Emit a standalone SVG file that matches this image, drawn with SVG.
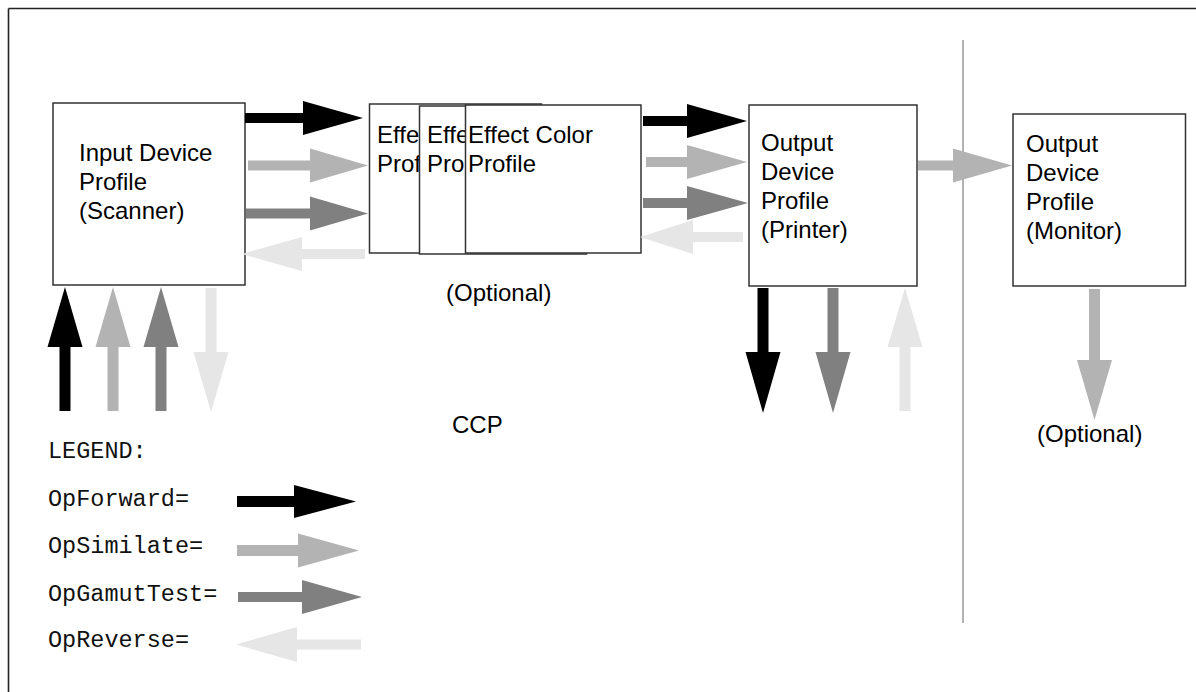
<svg xmlns="http://www.w3.org/2000/svg" width="1196" height="692" viewBox="0 0 1196 692">
<style>
.box{fill:#fff;stroke:#333;stroke-width:1.5}
.t{font-family:"Liberation Sans",Arial,sans-serif;font-size:24px;fill:#000}
.m{font-family:"Liberation Mono","Courier New",monospace;font-size:23.5px;fill:#111}
.fw{fill:#000}.sim{fill:#b3b3b3}.gam{fill:#808080}.rev{fill:#e6e6e6}
</style>
<rect width="1196" height="692" fill="#fff"/>
<g id="frame" stroke="#222" stroke-width="1.6" fill="none">
<line x1="8.5" y1="8.5" x2="1196" y2="8.5"/>
<line x1="8.5" y1="8.5" x2="8.5" y2="692"/>
</g>
<line id="separator" x1="963" y1="40" x2="963" y2="623" stroke="#999" stroke-width="1.5"/>
<g id="input">
<rect class="box" x="53" y="103" width="192" height="182"/>
<text class="t" x="79" y="161">Input Device</text>
<text class="t" x="79" y="190">Profile</text>
<text class="t" x="79" y="219">(Scanner)</text>
</g>
<g id="effect1">
<rect class="box" x="369.5" y="104" width="172" height="149"/>
<text class="t" x="377" y="143">Effe</text>
<text class="t" x="377" y="171.5">Prof</text>
</g>
<g id="effect2">
<rect class="box" x="419.5" y="106" width="167" height="148"/>
<text class="t" x="427" y="143">Effe</text>
<text class="t" x="427" y="171.5">Pro</text>
</g>
<g id="effect3">
<rect class="box" x="465.5" y="105" width="175.5" height="148"/>
<text class="t" x="468" y="143">Effect Color</text>
<text class="t" x="468" y="171.5">Profile</text>
</g>
<text class="t" x="446" y="301">(Optional)</text>
<g id="printer">
<rect class="box" x="749" y="105" width="168" height="181"/>
<text class="t" x="761" y="151">Output</text>
<text class="t" x="761" y="180">Device</text>
<text class="t" x="761" y="209">Profile</text>
<text class="t" x="761" y="238">(Printer)</text>
</g>
<g id="monitor">
<rect class="box" x="1013" y="114" width="172.5" height="172"/>
<text class="t" x="1026" y="152">Output</text>
<text class="t" x="1026" y="181">Device</text>
<text class="t" x="1026" y="210">Profile</text>
<text class="t" x="1026" y="239">(Monitor)</text>
</g>
<text class="t" x="1037" y="442">(Optional)</text>
<text class="t" x="452" y="433">CCP</text>
<g id="connectors">
<polygon class="fw" points="245,113 303,113 303,101 363,118 303,135 303,123 245,123"/>
<polygon class="sim" points="248,160.5 310,160.5 310,148.5 368,165.5 310,182.5 310,170.5 248,170.5"/>
<polygon class="gam" points="246,208.5 310,208.5 310,196.5 368,213.5 310,230.5 310,218.5 246,218.5"/>
<polygon class="rev" points="365,249 302,249 302,237 242,254 302,271 302,259 365,259"/>
<polygon class="fw" points="643,116 687,116 687,104 747,121 687,138 687,126 643,126"/>
<polygon class="sim" points="646,157 687,157 687,145 747,162 687,179 687,167 646,167"/>
<polygon class="gam" points="643,198 687,198 687,186 748,203 687,220 687,208 643,208"/>
<polygon class="rev" points="743,232 693,232 693,220 640,237 693,254 693,242 743,242"/>
<polygon class="sim" points="918,160.5 953,160.5 953,148.5 1012,165.5 953,182.5 953,170.5 918,170.5"/>
<polygon class="fw" points="59.5,411 59.5,347 47.5,347 65,287 82.5,347 70.5,347 70.5,411"/>
<polygon class="sim" points="107.5,411 107.5,347 95.5,347 113,287 130.5,347 118.5,347 118.5,411"/>
<polygon class="gam" points="155.5,411 155.5,347 143.5,347 161,287 178.5,347 166.5,347 166.5,411"/>
<polygon class="rev" points="205.5,288 205.5,352 193.5,352 211,412 228.5,352 216.5,352 216.5,288"/>
<polygon class="fw" points="757.5,288 757.5,352 745.5,352 763,413 780.5,352 768.5,352 768.5,288"/>
<polygon class="gam" points="827.5,288 827.5,352 815.5,352 833,413 850.5,352 838.5,352 838.5,288"/>
<polygon class="rev" points="899.5,411 899.5,347 887.5,347 905,288 922.5,347 910.5,347 910.5,411"/>
<polygon class="sim" points="1089,289 1089,360 1077,360 1094.5,420 1112,360 1100,360 1100,289"/>
</g>
<g id="legend">
<text class="m" x="48" y="458">LEGEND:</text>
<text class="m" x="48" y="506">OpForward=</text>
<text class="m" x="48" y="553">OpSimilate=</text>
<text class="m" x="48" y="601">OpGamutTest=</text>
<text class="m" x="48" y="647">OpReverse=</text>
<polygon class="fw" points="237,496 294,496 294,485 356,501.5 294,518 294,507 237,507"/>
<polygon class="sim" points="237,545 298,545 298,533.5 359,550.5 298,567.5 298,556 237,556"/>
<polygon class="gam" points="238,592 302,592 302,580 362,597 302,614 302,602 238,602"/>
<polygon class="rev" points="361,639.5 297,639.5 297,627 236,644.5 297,662 297,649.5 361,649.5"/>
</g>
</svg>
